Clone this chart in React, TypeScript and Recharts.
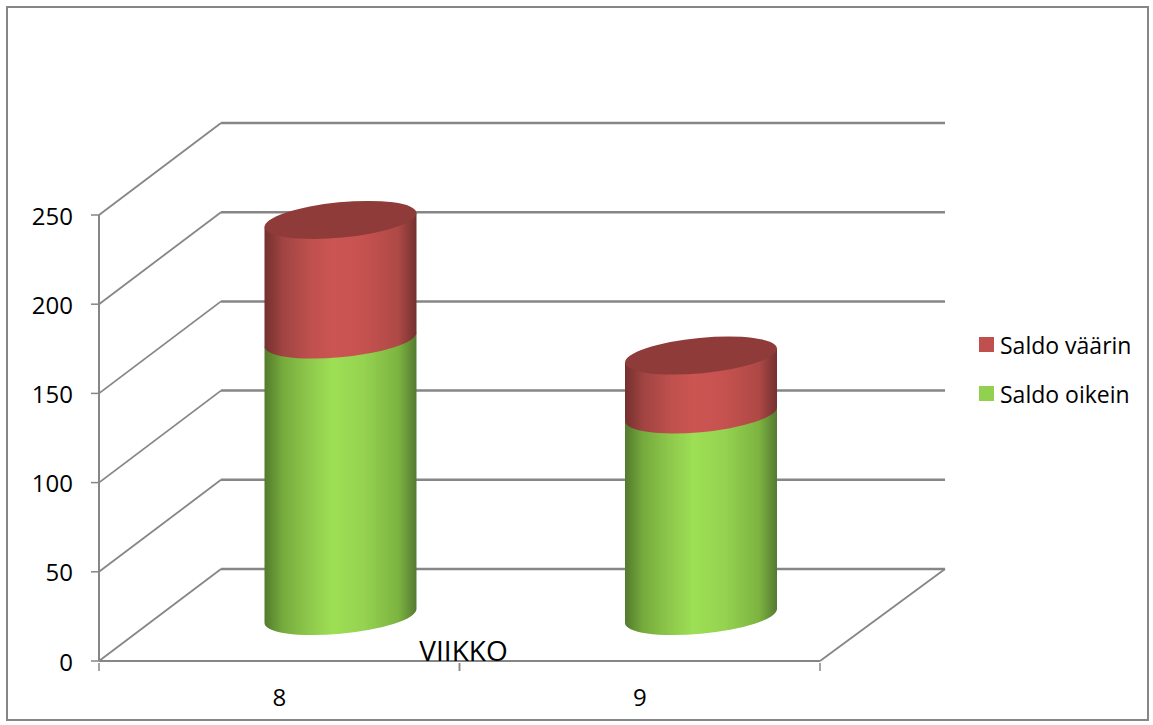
import { BarChart, Bar, XAxis, YAxis, CartesianGrid, Legend } from "recharts";

const weeks = ["8", "9"];
const saldoOikein = [155, 113];
const saldoVaarin = [67, 33];
const yTicks = [0, 50, 100, 150, 200, 250];

const chartData = weeks.map((week, i) => ({
  week,
  oikein: saldoOikein[i],
  vaarin: saldoVaarin[i],
}));

const WIDTH = 1153;
const HEIGHT = 725;
const MARGIN = { top: 215, right: 333, bottom: 0, left: 0 };
const X_AXIS_HEIGHT = 64;
const Y_AXIS_WIDTH = 99;
const BAND = (WIDTH - MARGIN.right - MARGIN.left - Y_AXIS_WIDTH) / weeks.length;

const LINE = "#868686";
const FONT = "'Open Sans', sans-serif";

// fake 3D: how far the back wall sits from the front plane
const WALL_DX = 122;
const WALL_DY = -92;
const WALL_RIGHT_DX = 125;

// cylinders stand halfway into the floor; end caps are tilted ellipses
const BAR_DX = 61.5;
const BAR_DY = -45;
const CAP_RX = 76.3;
const CAP_RY = 17.7;
const CAP_TILT = -5.5;
const CAP_DROP = 6.9;

function WallLine(props: any) {
  const { x1, x2, y1 } = props;
  const isFloor = y1 === HEIGHT - X_AXIS_HEIGHT;
  return (
    <g key={`wall-${y1}`} fill="none" stroke={LINE}>
      <line x1={x1} y1={y1} x2={x1 + WALL_DX} y2={y1 + WALL_DY} strokeWidth={1.8} />
      <line x1={x1 + WALL_DX} y1={y1 + WALL_DY} x2={x2 + WALL_RIGHT_DX} y2={y1 + WALL_DY} strokeWidth={2.5} />
      {isFloor && <line x1={x2} y1={y1} x2={x2 + WALL_RIGHT_DX} y2={y1 + WALL_DY} strokeWidth={1.8} />}
    </g>
  );
}

function WeekTick({ x, y, payload }: any) {
  return (
    <g>
      <line x1={x - BAND / 2} y1={y} x2={x - BAND / 2} y2={y + 8} stroke={LINE} strokeWidth={1.5} />
      <line x1={x + BAND / 2} y1={y} x2={x + BAND / 2} y2={y + 8} stroke={LINE} strokeWidth={1.5} />
      <text x={x} y={y + 43} textAnchor="middle" fontSize={24} fontFamily={FONT} fill="#000">
        {payload.value}
      </text>
    </g>
  );
}

function Cylinder({ x, y, width, height, gradient, cap }: any) {
  const left = x + BAR_DX;
  const right = left + width;
  const top = y + BAR_DY;
  const bottom = top + height;
  const arc = `A${CAP_RX} ${CAP_RY} ${CAP_TILT} 0 0`;
  const body =
    `M${left} ${top + CAP_DROP}` +
    `L${left} ${bottom + CAP_DROP}` +
    `${arc} ${right} ${bottom - CAP_DROP}` +
    `L${right} ${top - CAP_DROP}Z`;
  return (
    <g>
      <path d={body} fill={`url(#${gradient})`} />
      {cap && (
        <ellipse
          cx={(left + right) / 2}
          cy={top}
          rx={CAP_RX}
          ry={CAP_RY}
          transform={`rotate(${CAP_TILT} ${(left + right) / 2} ${top})`}
          fill={cap}
        />
      )}
    </g>
  );
}

function SaldoLegend({ payload }: any) {
  const items = [...(payload || [])].reverse();
  return (
    <div style={{ fontFamily: FONT, fontSize: 23, color: "#000" }}>
      {items.map((item: any) => (
        <div key={item.value} style={{ display: "flex", alignItems: "center", height: 49 }}>
          <span style={{ width: 15, height: 15, marginRight: 6, background: item.color }} />
          <span style={{ whiteSpace: "nowrap" }}>{item.value}</span>
        </div>
      ))}
    </div>
  );
}

export default function App() {
  return (
    <div style={{ position: "absolute", left: 0, top: 0, width: WIDTH, height: HEIGHT, background: "#fff" }}>
      <div
        style={{
          position: "absolute",
          left: 6,
          top: 6,
          width: 1139,
          height: 711,
          border: `2px solid ${LINE}`,
        }}
      />
      <BarChart
        width={WIDTH}
        height={HEIGHT}
        data={chartData}
        margin={MARGIN}
        barSize={152}
        style={{ position: "absolute", left: 0, top: 0 }}
      >
        <defs>
          <linearGradient id="redSide" x1="0" y1="0" x2="1" y2="0">
            <stop offset="0" stopColor="#74302E" />
            <stop offset="0.12" stopColor="#A04442" />
            <stop offset="0.3" stopColor="#BE504D" />
            <stop offset="0.45" stopColor="#CC5552" />
            <stop offset="0.65" stopColor="#C6524F" />
            <stop offset="0.88" stopColor="#AE4946" />
            <stop offset="1" stopColor="#733130" />
          </linearGradient>
          <linearGradient id="greenSide" x1="0" y1="0" x2="1" y2="0">
            <stop offset="0" stopColor="#537A2D" />
            <stop offset="0.12" stopColor="#76AB3D" />
            <stop offset="0.3" stopColor="#8FC94C" />
            <stop offset="0.45" stopColor="#9DDF55" />
            <stop offset="0.65" stopColor="#95D350" />
            <stop offset="0.88" stopColor="#7DB441" />
            <stop offset="1" stopColor="#557A32" />
          </linearGradient>
        </defs>
        <CartesianGrid vertical={false} horizontal={WallLine as any} />
        <XAxis
          dataKey="week"
          axisLine={{ stroke: LINE, strokeWidth: 2 }}
          tickLine={false}
          tickSize={0}
          tick={WeekTick}
          height={X_AXIS_HEIGHT}
          label={{
            value: "VIIKKO",
            position: "top",
            offset: 0,
            dx: 4,
            fontSize: 28,
            fontFamily: FONT,
            fill: "#000",
          }}
        />
        <YAxis
          width={Y_AXIS_WIDTH}
          domain={[0, 250]}
          ticks={yTicks}
          interval={0}
          axisLine={{ stroke: LINE, strokeWidth: 2 }}
          tickLine={{ stroke: LINE, strokeWidth: 1.5 }}
          tickSize={8}
          tickMargin={18}
          tick={{ fontSize: 24, fontFamily: FONT, fill: "#000", dy: 1 }}
        />
        <Legend
          layout="vertical"
          align="center"
          verticalAlign="middle"
          content={SaldoLegend}
          wrapperStyle={{ left: 979, top: 320, width: 170 }}
        />
        <Bar
          dataKey="oikein"
          name="Saldo oikein"
          stackId="saldo"
          fill="#92D050"
          isAnimationActive={false}
          shape={(props: any) => <Cylinder {...props} gradient="greenSide" />}
        />
        <Bar
          dataKey="vaarin"
          name="Saldo väärin"
          stackId="saldo"
          fill="#C0504D"
          isAnimationActive={false}
          shape={(props: any) => <Cylinder {...props} gradient="redSide" cap="#8E3B39" />}
        />
      </BarChart>
    </div>
  );
}
